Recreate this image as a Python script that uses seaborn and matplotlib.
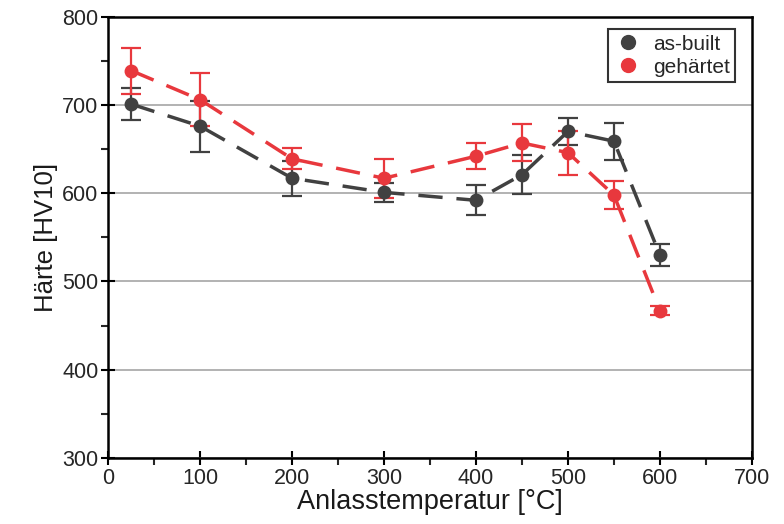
import matplotlib
matplotlib.use("Agg")
import matplotlib.pyplot as plt
from matplotlib.lines import Line2D
from matplotlib.ticker import MultipleLocator
import seaborn as sns
import pandas as pd

temps = [25, 100, 200, 300, 400, 450, 500, 550, 600]
asbuilt = [701, 676, 617, 601, 592, 621, 670, 659, 530]
asbuilt_err = [18, 29, 20, 11, 17, 22, 15, 21, 13]
gehaertet = [739, 706, 639, 617, 642, 657, 646, 598, 467]
gehaertet_err = [26, 30, 12, 22, 15, 21, 25, 16, 5]
series = ["as-built", "gehärtet"]
colors = {"as-built": "#414141", "gehärtet": "#e8383d"}

df = pd.DataFrame({
    "T": temps * 2,
    "HV": asbuilt + gehaertet,
    "err": asbuilt_err + gehaertet_err,
    "Probe": [series[0]] * len(temps) + [series[1]] * len(temps),
})

sns.set_style("white")
plt.rcParams['font.family'] = ['Liberation Sans', 'DejaVu Sans']

fig = plt.figure(figsize=(7.84, 5.24), dpi=100)
ax = fig.add_axes([0.138, 0.126, 0.821, 0.842])

for name in series:
    sub = df[df["Probe"] == name]
    ax.errorbar(sub["T"], sub["HV"], yerr=sub["err"], fmt="none",
                ecolor=colors[name], elinewidth=1.6, capsize=7, capthick=1.6, zorder=3)

n_before = len(ax.lines)
sns.lineplot(data=df, x="T", y="HV", hue="Probe", palette=colors, ax=ax,
             marker="o", markersize=10, markeredgewidth=0, linewidth=2.5,
             legend=False, zorder=4)
for line in ax.lines[n_before:]:
    line.set_dashes([7, 4])

ax.set_xlim(0, 700)
ax.set_ylim(300, 800)
ax.xaxis.set_major_locator(MultipleLocator(100))
ax.xaxis.set_minor_locator(MultipleLocator(50))
ax.yaxis.set_major_locator(MultipleLocator(100))
ax.yaxis.set_minor_locator(MultipleLocator(50))
ax.tick_params(axis="both", which="both", bottom=True, left=True, top=False, right=False)
ax.tick_params(axis="both", which="major", direction="inout", length=10, width=1.5,
               labelsize=15.5, colors="black", labelcolor="#262626", pad=2)
ax.tick_params(axis="both", which="minor", direction="out", length=5, width=1.5)
for s in ax.spines.values():
    s.set_visible(True)
    s.set_color("black")
    s.set_linewidth(1.8)
ax.yaxis.grid(True, color="#a6a6a6", linewidth=1.2)
ax.xaxis.grid(False)
ax.set_axisbelow(True)

ax.set_xlabel("Anlasstemperatur [°C]", fontsize=19.5, labelpad=0, color="#1a1a1a")
ax.set_ylabel("Härte [HV10]", fontsize=18.5, labelpad=3, color="#1a1a1a")

handles = [Line2D([], [], marker="o", color=colors[n], linestyle="none", markersize=10)
           for n in series]
leg = ax.legend(handles, series, loc="upper right", fontsize=15, frameon=True,
                fancybox=False, edgecolor="black", handletextpad=0.5,
                borderpad=0.25, labelspacing=0.2, handlelength=1.4,
                bbox_to_anchor=(0.99, 0.995))
leg.get_frame().set_linewidth(1.5)

fig.savefig("out.png", dpi=100)
